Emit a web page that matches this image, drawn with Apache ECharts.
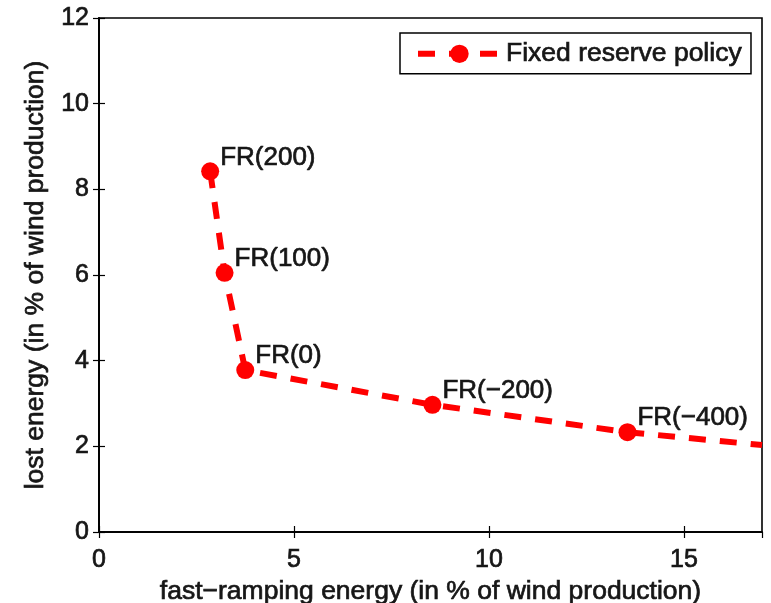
<!DOCTYPE html>
<html>
<head>
<meta charset="utf-8">
<script src="https://cdn.jsdelivr.net/npm/echarts@6/dist/echarts.min.js"></script>
<style>
  html, body { margin: 0; padding: 0; background: #fff; }
  #chart { width: 771px; height: 603px; }
</style>
</head>
<body>
<div id="chart"></div>
<script>
// Fixed reserve policies: fast-ramping energy vs lost energy (both in % of wind production)
const policyNames = ['FR(200)', 'FR(100)', 'FR(0)', 'FR(\u2212200)', 'FR(\u2212400)'];
const fastRampingEnergy = [2.85, 3.22, 3.75, 8.55, 13.55];
const lostEnergy = [8.42, 6.05, 3.78, 2.97, 2.33];
// the curve continues to the right edge of the axes
const tailFastRamping = [17.0];
const tailLost = [2.03];

const xTicks = { min: 0, max: 17, interval: 5 };
const yTicks = { min: 0, max: 12, interval: 2 };

const FONT = "'Liberation Sans', Arial, Helvetica, sans-serif";
const INK = '#161616';
const RED = '#ff0000';
const DASH = [17, 14];

const curve = policyNames.map((name, i) => ({
  name: name,
  value: [fastRampingEnergy[i], lostEnergy[i]]
})).concat(tailFastRamping.map((x, i) => ({
  value: [x, tailLost[i]],
  symbol: 'none',
  label: { show: false }
})));

// slightly heavier strokes for all text
const weight = { textBorderColor: INK, textBorderWidth: 0.7 };
const axisLine = { show: true, lineStyle: { color: '#000', width: 1.6 } };
const tickIn = { show: true, inside: true, length: 6, lineStyle: { color: '#000', width: 1.2 } };
const tickText = Object.assign({ fontFamily: FONT, fontSize: 25, color: INK }, weight);
const titleText = Object.assign({ fontFamily: FONT, fontSize: 26.5, color: INK }, weight);

const chart = echarts.init(document.getElementById('chart'), null, { renderer: 'canvas' });
chart.setOption({
  animation: false,
  backgroundColor: '#fff',
  textStyle: { fontFamily: FONT },
  grid: {
    left: 99, right: 9, top: 18, bottom: 71,
    containLabel: false,
    outerBoundsMode: 'none',
    show: true, borderColor: '#000', borderWidth: 1.6, backgroundColor: '#fff'
  },
  legend: {
    show: true,
    left: 400, top: 33,
    padding: [7, 9, 6, 15],
    backgroundColor: '#fff',
    borderColor: '#000', borderWidth: 1.5, borderRadius: 0,
    itemWidth: 83, itemHeight: 23, itemGap: 0,
    lineStyle: { width: 6, type: DASH, color: RED, cap: 'butt' },
    itemStyle: { color: RED },
    textStyle: Object.assign({ fontFamily: FONT, fontSize: 26.5, color: INK }, weight),
    data: [{ name: 'Fixed reserve policy' }]
  },
  xAxis: [{
    type: 'value', position: 'bottom',
    min: xTicks.min, max: xTicks.max, interval: xTicks.interval,
    axisLine: axisLine, axisTick: tickIn,
    splitLine: { show: false },
    axisLabel: Object.assign({ margin: 16, showMaxLabel: false }, tickText),
    name: 'fast\u2212ramping energy (in % of wind production)',
    nameLocation: 'middle', nameGap: 42,
    nameTextStyle: titleText
  }, {
    type: 'value', position: 'top',
    min: xTicks.min, max: xTicks.max, interval: xTicks.interval,
    axisLine: axisLine, axisTick: tickIn,
    splitLine: { show: false }, axisLabel: { show: false }
  }],
  yAxis: [{
    type: 'value', position: 'left',
    min: yTicks.min, max: yTicks.max, interval: yTicks.interval,
    axisLine: axisLine, axisTick: tickIn,
    splitLine: { show: false },
    axisLabel: Object.assign({ margin: 10 }, tickText),
    name: 'lost energy (in % of wind production)',
    nameLocation: 'middle', nameGap: 50,
    nameTextStyle: titleText
  }, {
    type: 'value', position: 'right',
    min: yTicks.min, max: yTicks.max, interval: yTicks.interval,
    axisLine: axisLine, axisTick: tickIn,
    splitLine: { show: false }, axisLabel: { show: false }
  }],
  series: [{
    name: 'Fixed reserve policy',
    type: 'line',
    data: curve,
    clip: true,
    symbol: 'circle',
    symbolSize: 18,
    showAllSymbol: true,
    itemStyle: { color: RED },
    lineStyle: { color: RED, width: 6, type: DASH, cap: 'butt' },
    label: Object.assign({
      show: true,
      position: 'right',
      distance: 1,
      offset: [0, -14],
      formatter: p => p.name,
      fontFamily: FONT, fontSize: 26, color: INK
    }, weight),
    emphasis: { disabled: true }
  }]
});
</script>
</body>
</html>
